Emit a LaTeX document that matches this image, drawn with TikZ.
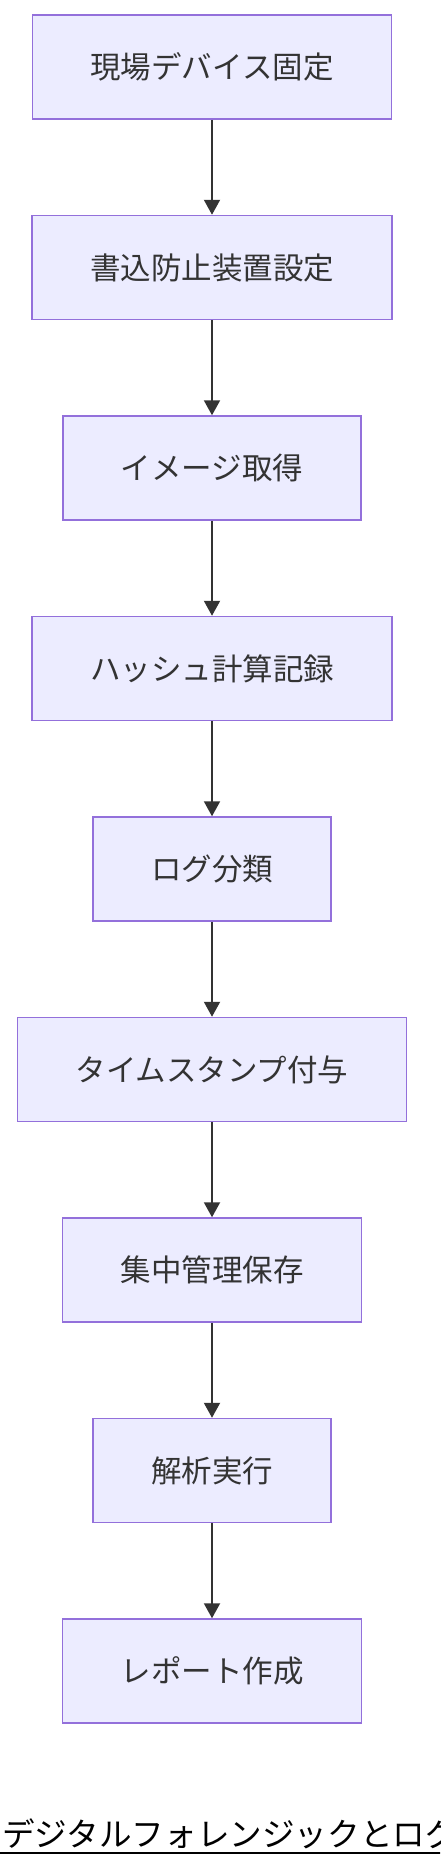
\documentclass[tikz,border=0pt]{standalone}
\usepackage{fontspec}
\usepackage{xcolor}
\usepackage{tikz}
\usetikzlibrary{positioning,arrows.meta}
\setmainfont{Noto Sans CJK JP}
\definecolor{boxfill}{HTML}{ECECFF}
\definecolor{boxline}{HTML}{9370DB}
\definecolor{arrowgray}{HTML}{333333}

\begin{document}
\begin{tikzpicture}[x=1pt, y=1pt, node distance=95pt,
    stepbox/.style={draw=boxline, fill=boxfill, line width=1.5pt, minimum height=104pt,
      inner xsep=58pt, text=arrowgray, font=\fontsize{30.5}{36}\selectfont},
    flow/.style={draw=arrowgray, line width=2pt, -{Triangle[length=15pt,width=16pt]}}]
        \clip (0,0) rectangle (440,-1868);
        \node[stepbox] (A) at (212,-67) {現場デバイス固定};
        \node[stepbox] (B) [below=of A] {書込防止装置設定};
        \node[stepbox] (C) [below=of B] {イメージ取得};
        \node[stepbox] (D) [below=of C] {ハッシュ計算記録};
        \node[stepbox] (E) [below=of D] {ログ分類};
        \node[stepbox] (F) [below=of E] {タイムスタンプ付与};
        \node[stepbox] (G) [below=of F] {集中管理保存};
        \node[stepbox] (H) [below=of G] {解析実行};
        \node[stepbox] (I) [below=of H] {レポート作成};
        \path
          (A) edge [flow] (B)
          (B) edge [flow] (C)
          (C) edge [flow] (D)
          (D) edge [flow] (E)
          (E) edge [flow] (F)
          (F) edge [flow] (G)
          (G) edge [flow] (H)
          (H) edge [flow] (I);
        % title, cut off at the right edge
        \node[anchor=base west, inner sep=0pt, font=\fontsize{32.6}{38}\selectfont] (T) at (2,-1846) {デジタルフォレンジックとログ};
        \draw[line width=2pt] ([yshift=-7pt]T.base west) ++(-2,0) -- ++(460,0);
  \end{tikzpicture}
\end{document}
